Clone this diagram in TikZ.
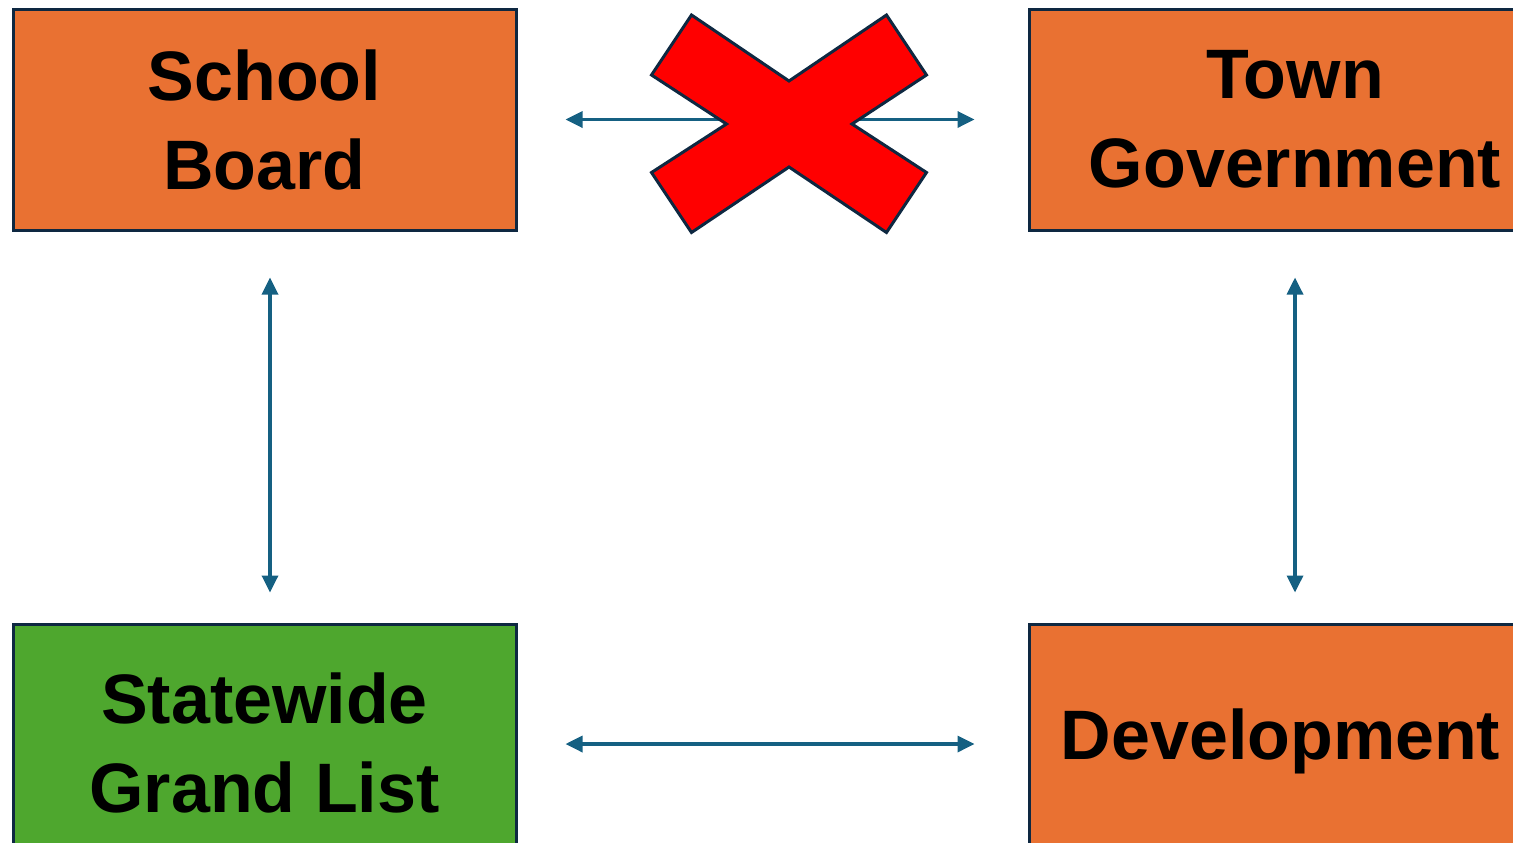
\documentclass[tikz,border=0pt]{standalone}
\usepackage{fontspec}
\setmainfont{Liberation Sans}
\usetikzlibrary{arrows.meta}
\definecolor{boxorange}{HTML}{E97132}
\definecolor{boxgreen}{HTML}{4EA72E}
\definecolor{edgenavy}{HTML}{0E2841}
\definecolor{arrowblue}{HTML}{156082}
\definecolor{xred}{HTML}{FF0000}
\tikzset{
  box/.style={draw=edgenavy, line width=1.5pt, inner sep=0pt,
    minimum width=251.5pt, minimum height=110.5pt, align=center,
    font=\bfseries\fontsize{35}{44.5}\selectfont},
  link/.style={draw=arrowblue, line width=1.7pt,
    {Triangle[length=8.5pt,width=8pt]}-{Triangle[length=8.5pt,width=8pt]}},
}
\begin{document}
\begin{tikzpicture}[x=0.5pt,y=-0.5pt]
\useasboundingbox (0,0) rectangle (1513,842);
\clip (0,0) rectangle (1513,842);
\node[box, fill=boxorange] (sb) at (264.5,119.5) {School\\Board};
\node[box, fill=boxorange, minimum width=266pt] (tg) at (1295,119.5) {Town\\Government};
\node[box, fill=boxgreen, minimum height=118.5pt] (sl) at (264.5,742.5) {Statewide\\Grand List};
\node[box, fill=boxorange, minimum height=117pt] (dv) at (1280.5,741) {Development};
% connectors
\draw[link, shorten <=24pt, shorten >=26.5pt] (sb.east) -- (tg.west);
\draw[link, shorten <=23pt, shorten >=15pt] ([xshift=2.75pt]sb.south) -- ([xshift=2.75pt]sl.north);
\draw[link, shorten <=23pt, shorten >=15pt] (tg.south) -- (tg.south |- dv.north);
\draw[link, shorten <=24pt, shorten >=26.5pt] ([yshift=-0.75pt]sl.east) -- ([yshift=-0.75pt]sl.east -| dv.west);
% red cross
\draw[fill=xred, draw=edgenavy, line width=1.5pt, line join=miter]
  (691.5,15) -- (789,81) -- (886.5,15) -- (926.5,75) -- (852,124) -- (926.5,172.5)
  -- (886.5,232.5) -- (789,167) -- (691.5,232.5) -- (651.5,172.5) -- (726.5,124)
  -- (651.5,75) -- cycle;
\end{tikzpicture}
\end{document}
